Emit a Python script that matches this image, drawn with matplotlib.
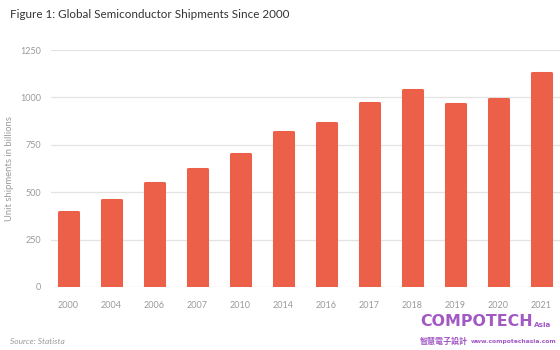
import matplotlib
matplotlib.use("Agg")
import matplotlib.pyplot as plt
import numpy as np

# data
years = ["2000", "2004", "2006", "2007", "2010", "2014",
         "2016", "2017", "2018", "2019", "2020", "2021"]
shipments = [397, 457, 548, 621, 700, 817, 863, 970, 1039, 967, 993, 1127]
y_ticks = [0, 250, 500, 750, 1000, 1250]

BAR_COLOR = "#ec5f48"
GRID_COLOR = "#e3e3e3"
TICK_COLOR = "#9a9a9a"
MARK_COLOR = "#a259c4"

plt.rcParams["font.family"] = ["Lato", "DejaVu Sans"]

W, H = 560, 350
fig = plt.figure(figsize=(W / 100, H / 100), dpi=100)
fig.patch.set_facecolor("white")

# axes box in pixels: left 51, bottom 287, top 50, right 560
ax = fig.add_axes([51 / W, (H - 287) / H, (W - 51) / W, (287 - 50) / H])
x = np.arange(len(years))
ax.bar(x, shipments, width=0.44, color=BAR_COLOR, edgecolor=BAR_COLOR,
       linewidth=2.2, joinstyle="round", zorder=3)

ax.set_xlim(-0.4, 11.44)
ax.set_ylim(0, 1250)
ax.set_yticks(y_ticks)
ax.set_yticklabels([str(v) for v in y_ticks])
ax.set_xticks(x)
ax.set_xticklabels(years)
ax.tick_params(axis="both", length=0, labelsize=6.5, labelcolor=TICK_COLOR)
ax.tick_params(axis="y", pad=7)
ax.tick_params(axis="x", pad=10)
ax.grid(axis="y", color=GRID_COLOR, linewidth=0.9, zorder=0)
for s in ax.spines.values():
    s.set_visible(False)
ax.set_ylabel("Unit shipments in billions", fontsize=6.8, color=TICK_COLOR)
ax.yaxis.set_label_coords((14 - 51) / (W - 51), 0.5)

fig.text(10 / W, 1 - 15 / H, "Figure 1: Global Semiconductor Shipments Since 2000",
         fontsize=8.4, color="#333333", va="center", ha="left")
fig.text(10 / W, 1 - 341 / H, "Source: Statista", fontsize=6, style="italic",
         color=TICK_COLOR, va="center", ha="left")

# watermark
mark = dict(family=["DejaVu Sans"], fontweight="bold", color=MARK_COLOR)
brand = fig.text(420 / W, 1 - 321 / H, "COMPOTECH", fontsize=11.4, va="center",
                 ha="left", **mark)
fig.canvas.draw()
bb = brand.get_window_extent()
fig.text((bb.x1 + 1) / W, 1 - 325 / H, "Asia", fontsize=5.2, va="center",
         ha="left", **mark)
fig.text(420 / W, 1 - 341 / H, "智慧電子設計", fontsize=5.8, fontweight="bold",
         family=["Noto Sans CJK TC", "DejaVu Sans"], color=MARK_COLOR,
         va="center", ha="left")
fig.text(557 / W, 1 - 341 / H, "www.compotechasia.com", fontsize=4.3,
         va="center", ha="right", **mark)

fig.savefig("out.png", dpi=100, facecolor="white")
